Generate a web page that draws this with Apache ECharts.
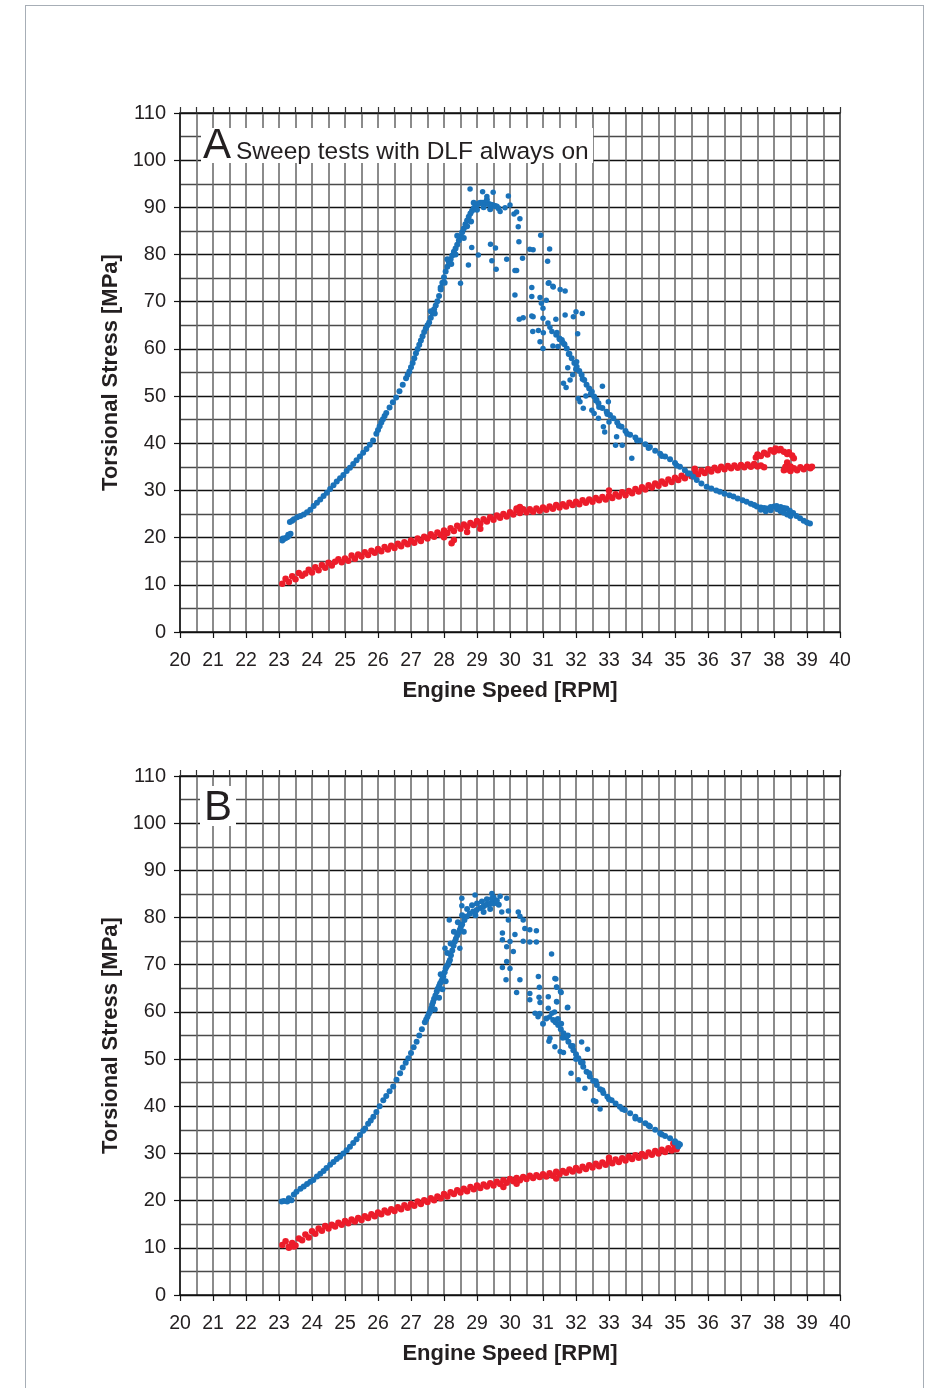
<!DOCTYPE html>
<html>
<head>
<meta charset="utf-8">
<script src="https://cdn.jsdelivr.net/npm/echarts@6/dist/echarts.min.js"></script>
<style>
html,body{margin:0;padding:0;background:#fff;}
#frame{position:absolute;left:25px;top:5px;width:899px;height:1400px;border:1px solid #a7aeb6;border-bottom:none;box-sizing:border-box;}
#chart{position:absolute;left:0;top:0;width:937px;height:1388px;}
</style>
</head>
<body>
<div id="frame"></div>
<div id="chart"></div>
<script>
// ---------- Data ----------
const xMin = 20, xMax = 40, yMin = 0, yMax = 110;
const xAxisName = 'Engine Speed [RPM]';
const yAxisName = 'Torsional Stress [MPa]';
const titleA = 'Sweep tests with DLF always on';

// Panel A – blue (dense curve)
const blueACurve = [
[23.10,19.4],[23.12,19.8],[23.15,19.7],[23.20,19.9],[23.25,20.1],[23.28,20.6],[23.30,20.4],[23.35,20.8],
[23.33,23.3],[23.40,23.6],[23.45,23.9],[23.55,24.3],[23.65,24.6],[23.75,24.9],[23.85,25.4],[23.95,25.9],
[24.05,26.7],[24.15,27.4],[24.25,28.1],[24.35,28.8],[24.45,29.5],[24.55,30.3],[24.65,31.1],[24.75,31.9],
[24.85,32.6],[24.95,33.3],[25.05,34.1],[25.15,34.8],[25.25,35.6],[25.35,36.4],[25.45,37.2],[25.55,38.0],
[25.65,38.8],[25.75,39.7],[25.85,40.6],[25.95,42.0],[26.00,42.8],[26.05,43.6],[26.10,44.4],[26.15,45.1],
[26.20,45.8],[26.25,46.4],[26.35,47.6],[26.45,48.7],[26.55,49.7],[26.65,51.0],[26.75,52.4],[26.85,53.8],
[26.90,54.5],[26.95,55.2],[27.00,56.1],[27.05,57.0],[27.10,58.0],[27.15,59.1],[27.20,60.0],[27.25,60.9],
[27.30,61.8],[27.35,62.7],[27.40,63.6],[27.45,64.4],[27.50,65.0],[27.55,65.6],[27.60,66.6],[27.65,67.6],
[27.70,68.4],[27.75,69.2],[27.80,70.1],[27.85,71.2],[27.90,72.6],[27.95,74.0],[28.00,75.2],[28.05,76.4],
[28.10,77.4],[28.15,78.3],[28.20,79.0],[28.25,79.8],[28.30,80.6],[28.35,81.3],[28.40,82.1],[28.45,83.0],
[28.50,83.9],[28.55,84.7],[28.60,85.5],[28.65,86.4],[28.70,87.2],[28.75,88.0],[28.80,88.7],[28.85,89.3],
[28.90,89.8],[28.95,90.2],[29.00,90.5],[29.05,90.8],[29.10,91.0],[29.15,91.0],[29.20,91.0],[29.25,90.9],
[29.30,90.8],[29.35,90.7],[29.40,90.6],[29.45,90.5],[29.50,90.4],[29.55,90.3],[29.60,90.2],[29.65,89.8],
[27.60,68.0],[27.72,67.5],[27.90,73.0],[28.02,74.0],[28.10,79.0],[28.22,78.0],[28.35,80.0],[28.40,84.0],
[28.60,83.5],[28.70,86.0],[28.82,87.0],[28.90,91.0],[29.00,89.5],[29.20,90.0],[29.30,91.6],[29.40,89.6],
[31.40,63.0],[31.50,62.2],[31.57,61.9],[31.65,61.0],[31.72,60.1],[31.80,59.0],[31.87,58.0],[31.95,57.0],
[32.02,56.2],[32.10,55.3],[32.17,54.5],[32.25,53.4],[32.32,52.4],[32.40,51.6],[32.48,50.9],[32.55,49.9],
[32.62,49.2],[32.68,48.5],[32.80,47.5],[32.93,46.7],[33.03,46.0],[33.13,45.3],[33.25,44.4],[33.38,43.5],
[33.50,42.6],[33.64,41.8],[33.80,41.2],[33.94,40.6],[34.10,39.8],[34.24,39.2],[34.40,38.4],[34.55,37.8],
[34.70,37.2],[34.85,36.6],[35.00,35.8],[35.15,35.0],[35.30,34.3],[35.45,33.6],[35.55,32.9],[35.66,32.2],
[35.80,31.5],[35.96,30.8],[36.10,30.4],[36.25,30.0],[36.36,29.7],[36.50,29.3],[36.65,29.0],[36.77,28.7],
[36.90,28.3],[37.05,27.9],[37.17,27.6],[37.30,27.2],[37.40,26.9],[37.48,26.6],[37.60,26.4],[37.70,26.3],
[37.78,26.2],[37.90,26.5],[38.00,26.6],[38.08,26.7],[38.20,26.5],[38.30,26.3],[38.38,26.2],[38.48,25.7],
[38.58,25.2],[38.68,24.6],[38.79,24.1],[38.90,23.6],[39.00,23.2],[39.09,23.0],
[37.60,25.9],[37.75,25.6],[37.90,25.8],[38.10,26.0],[38.20,25.6],[38.30,25.3],[38.40,24.9],[38.50,24.6],
[31.60,61.3],[31.78,58.9],[32.00,55.7],[32.20,53.6],[32.45,50.5],[32.70,47.7],[32.95,46.2],[33.30,43.7],
[33.55,42.0],[33.85,40.6],[34.20,39.0],[34.60,37.3],[35.05,35.3],[35.40,33.6]
];
// Panel A – blue (scattered points around the peak)
const blueAScatter = [
[28.79,93.9],[29.17,93.3],[29.49,93.2],[29.95,92.4],[29.30,92.3],[29.70,89.1],[30.00,90.5],[30.12,88.6],
[30.25,85.9],[30.30,87.6],[29.85,89.9],[30.20,89.0],
[28.50,73.9],[28.74,77.8],[28.84,81.5],[29.04,79.9],[29.41,82.2],[29.56,81.4],[29.45,78.7],[29.58,76.9],
[29.90,79.0],[30.15,76.6],[30.20,76.6],[30.38,79.2],[30.60,81.1],[30.70,81.0],[30.27,82.7],[30.93,84.1],
[31.20,81.2],[31.14,78.6],[30.15,71.4],[30.66,73.0],[30.66,71.1],[30.91,70.9],[30.95,69.7],[31.18,74.0],
[31.31,73.1],[31.52,72.6],[31.67,72.3],[31.16,73.9],[31.30,73.3],[31.10,70.3],[31.00,68.6],[30.66,67.0],
[31.67,67.2],[32.00,67.9],[32.19,67.5],[31.92,66.8],[31.39,66.3],[30.28,66.3],[30.40,66.6],[30.70,66.8],
[31.00,66.5],[31.15,65.5],[30.69,63.7],[30.86,63.9],[31.01,63.4],[31.21,64.6],[31.27,63.7],[31.42,63.5],
[32.05,63.2],[30.91,61.5],[31.00,60.1],[31.30,60.6],[31.62,52.7],[31.82,53.4],[31.70,51.8],[32.07,49.5],
[32.12,48.8],[32.22,47.4],[32.48,47.0],[32.55,46.3],[32.68,45.3],[32.83,43.5],[32.87,42.4],[33.23,41.4],
[32.98,48.8],[32.80,52.1],[33.20,39.6],[33.40,39.6],[33.69,36.8],[32.02,57.3],[31.75,56.0],[31.90,54.5],
[32.30,50.0],[32.60,49.0],[33.00,44.5],[31.50,62.0],[31.45,60.5]
];
// Panel A – red
const redA = [
[23.1,10.2],[23.2,11.3],[23.3,10.6],[23.4,11.8],[23.5,11.2],[23.6,12.5],[23.7,11.9],[23.8,12.4],[23.9,13.2],[24.0,12.6],
[24.1,13.7],[24.2,13.1],[24.3,14.2],[24.4,13.6],[24.5,14.7],[24.6,14.1],[24.7,14.9],[24.8,15.4],[24.9,14.8],[25.0,15.6],
[25.1,15.1],[25.2,16.2],[25.3,15.5],[25.4,16.4],[25.5,16.0],[25.6,16.9],[25.7,16.3],[25.8,17.2],[25.9,16.8],[26.0,17.6],
[26.1,17.1],[26.2,18.0],[26.3,17.5],[26.4,18.3],[26.5,17.8],[26.6,18.7],[26.7,18.2],[26.8,19.0],[26.9,18.6],[27.0,19.4],
[27.1,18.9],[27.2,19.8],[27.3,19.3],[27.4,20.2],[27.5,19.8],[27.6,20.7],[27.7,20.2],[27.8,21.1],[27.9,20.6],[28.0,21.5],
[28.1,21.0],[28.2,22.0],[28.3,21.4],[28.4,22.5],[28.5,21.9],[28.6,22.8],[28.7,22.3],[28.8,23.1],[28.9,22.7],[29.0,23.5],
[29.1,23.0],[29.2,23.9],[29.3,23.4],[29.4,24.3],[29.5,23.8],[29.6,24.7],[29.7,24.2],[29.8,25.0],[29.9,24.5],[30.0,25.4],
[30.1,24.9],[30.2,25.8],[30.3,25.2],[30.4,26.0],[30.5,25.4],[30.6,26.0],[30.7,25.5],[30.8,26.2],[30.9,25.7],[31.0,26.4],
[31.1,25.9],[31.2,26.6],[31.3,26.1],[31.4,26.9],[31.5,26.4],[31.6,27.1],[31.7,26.6],[31.8,27.4],[31.9,26.9],[32.0,27.6],
[32.1,27.1],[32.2,27.9],[32.3,27.4],[32.4,28.1],[32.5,27.6],[32.6,28.4],[32.7,27.9],[32.8,28.6],[32.9,28.1],[33.0,28.9],
[33.1,28.4],[33.2,29.2],[33.3,28.7],[33.4,29.6],[33.5,29.0],[33.6,29.9],[33.7,29.4],[33.8,30.3],[33.9,29.8],[34.0,30.7],
[34.1,30.2],[34.2,31.1],[34.3,30.6],[34.4,31.5],[34.5,31.0],[34.6,31.9],[34.7,31.4],[34.8,32.3],[34.9,31.8],[35.0,32.7],
[35.1,32.2],[35.2,33.1],[35.3,32.6],[35.4,33.5],[35.5,33.0],[35.6,33.9],[35.7,33.4],[35.8,34.2],[35.9,33.7],[36.0,34.5],
[36.1,34.0],[36.2,34.8],[36.3,34.3],[36.4,35.0],[36.5,34.5],[36.6,35.2],[36.7,34.7],[36.8,35.3],[36.9,34.8],[37.0,35.4],
[37.1,34.9],[37.2,35.5],[37.3,35.0],[37.4,35.6],[37.5,35.1],[37.6,35.3],[37.7,34.9],
[37.45,37.0],[37.50,37.6],[37.60,37.3],[37.70,38.0],[37.80,37.6],[37.90,38.5],[38.00,38.2],[38.05,38.9],[38.15,38.5],
[38.20,38.8],[38.30,38.2],[38.40,37.7],[38.45,38.1],[38.55,37.4],[38.60,36.8],[38.40,35.9],[38.35,35.0],[38.30,34.3],
[38.40,34.5],[38.50,34.1],[38.60,34.7],[38.70,34.3],[38.80,34.9],[38.90,34.5],[39.00,35.0],[39.10,34.7],[39.15,35.0],
[38.35,34.8],[38.50,35.1],
[28.23,18.8],[28.30,19.5],[28.00,20.1],[28.70,21.2],[29.10,21.9],[30.30,26.5],[30.20,26.2],[33.00,30.0],[35.60,34.6]
];

// Panel B – blue (dense curve)
const blueBCurve = [
[23.08,19.8],[23.15,19.9],[23.25,19.8],[23.30,20.5],[23.38,20.1],[23.45,21.3],[23.53,21.9],[23.65,22.5],
[23.75,23.0],[23.85,23.5],[23.95,24.0],[24.04,24.4],[24.15,25.1],[24.25,25.7],[24.35,26.3],[24.44,26.9],
[24.55,27.6],[24.65,28.2],[24.75,28.8],[24.85,29.3],[24.95,30.0],[25.05,30.7],[25.15,31.4],[25.25,32.2],
[25.35,33.0],[25.45,33.9],[25.55,34.8],[25.61,35.3],[25.70,36.3],[25.78,37.0],[25.86,37.8],[25.95,38.8],
[26.05,40.0],[26.16,41.3],[26.25,42.2],[26.35,43.2],[26.46,44.2],[26.56,45.6],[26.67,47.0],[26.75,48.2],
[26.84,49.2],[26.92,50.2],[27.00,51.3],[27.08,52.5],[27.17,53.7],[27.25,55.0],[27.33,56.3],[27.42,57.8],
[27.46,58.4],[27.50,59.0],[27.54,59.6],[27.58,60.1],[27.61,60.8],[27.64,61.5],[27.67,62.1],[27.70,62.8],
[27.74,63.5],[27.78,64.3],[27.81,64.9],[27.85,65.5],[27.88,66.0],[27.92,66.5],[27.95,67.0],[27.98,67.5],
[28.02,68.4],[28.05,69.2],[28.08,69.6],[28.12,70.0],[28.15,70.5],[28.18,71.0],[28.21,72.0],[28.25,73.0],
[28.29,74.0],[28.33,74.9],[28.36,75.5],[28.40,76.2],[28.44,76.8],[28.48,77.4],[28.51,78.0],[28.55,78.5],
[28.62,79.5],[28.69,80.2],[28.78,80.8],[28.88,81.3],[28.99,81.6],[29.10,82.0],[29.20,82.4],[29.29,82.7],
[29.40,82.9],[29.49,83.0],[29.58,83.1],[29.66,82.7],
[27.72,60.5],[27.85,63.0],[27.95,64.8],[28.05,66.5],[27.90,68.0],[28.10,72.5],[28.20,74.5],[28.30,77.0],
[28.42,79.0],[28.55,80.5],[28.60,77.0],[28.70,81.8],[28.85,82.6],[29.00,83.0],[29.15,83.4],[29.30,83.9],
[29.45,84.0],[28.95,80.5],[29.20,81.2],[29.40,81.8],[29.50,84.3],[29.60,83.6],
[31.31,58.3],[31.38,57.8],[31.46,57.2],[31.54,56.3],[31.62,55.5],[31.70,54.6],[31.77,53.7],[31.85,52.8],
[31.92,51.9],[32.00,51.0],[32.07,50.2],[32.15,49.3],[32.22,48.4],[32.32,47.3],[32.42,46.3],[32.52,45.4],
[32.63,44.5],[32.73,43.6],[32.83,42.8],[32.95,42.0],[33.08,41.3],[33.20,40.6],[33.33,39.9],[33.48,39.2],
[33.64,38.5],[33.80,37.8],[33.94,37.1],[34.10,36.4],[34.24,35.7],[34.40,35.0],[34.55,34.3],[34.70,33.7],
[34.85,33.2],[35.00,32.6],[35.10,32.1],[35.15,31.9],
[31.45,58.5],[31.55,57.5],[31.60,54.5],[31.75,55.0],[31.90,52.8],[32.00,50.0],[32.20,49.3],[32.40,47.0],
[32.60,45.3],[32.80,43.4],[33.00,41.5],[33.40,39.4],[33.80,37.4],[34.20,35.9],[34.60,34.0],[35.00,32.3],
[35.10,31.5],[30.90,59.6],[31.10,58.6],[31.00,57.5]
];
// Panel B – blue (scattered points)
const blueBScatter = [
[28.54,84.1],[28.94,84.8],[29.45,85.1],[29.70,84.5],[29.90,84.1],[28.54,82.5],[28.16,79.5],[28.03,73.5],
[28.48,73.5],[29.75,81.2],[29.95,81.4],[29.95,79.5],[30.25,81.2],[30.40,79.5],[30.30,80.3],[30.60,77.4],
[30.80,77.2],[30.45,77.7],[29.77,76.7],[30.15,76.4],[29.77,75.3],[30.00,74.9],[30.40,75.0],[30.60,74.8],
[30.80,74.8],[29.90,73.8],[30.10,72.8],[31.26,72.3],[29.90,70.7],[29.77,69.4],[30.00,69.2],[29.88,66.8],
[30.30,66.8],[30.86,67.5],[31.39,67.0],[30.20,64.1],[30.60,63.9],[30.89,65.2],[31.42,65.2],[31.55,64.1],
[31.16,63.2],[30.60,62.6],[30.91,62.0],[31.42,62.1],[31.75,61.0],[30.76,59.7],[31.16,60.8],[31.27,59.7],
[31.35,60.0],[30.85,59.0],[31.36,67.1],[31.41,65.3],[31.53,64.3],[30.88,63.1],[31.41,62.2],[31.74,60.9],
[31.20,58.9],[31.21,54.4],[31.18,53.8],[31.36,52.6],[31.52,51.6],[31.62,51.4],[32.17,53.6],[32.35,52.1],
[31.85,47.0],[32.07,45.6],[32.27,43.8],[32.53,41.2],[32.60,41.0],[32.73,39.4]
];
// Panel B – red
const redB = [
[23.1,10.6],[23.2,11.4],[23.3,10.2],[23.4,11.0],[23.5,10.5],[23.6,12.0],[23.7,11.6],[23.8,12.8],[23.9,12.2],[24.0,13.5],
[24.1,13.0],[24.2,14.1],[24.3,13.6],[24.4,14.6],[24.5,14.1],[24.6,14.9],[24.7,14.5],[24.8,15.3],[24.9,14.9],[25.0,15.7],
[25.1,15.2],[25.2,16.0],[25.3,15.6],[25.4,16.3],[25.5,15.9],[25.6,16.7],[25.7,16.3],[25.8,17.1],[25.9,16.7],[26.0,17.5],
[26.1,17.1],[26.2,17.9],[26.3,17.5],[26.4,18.2],[26.5,17.8],[26.6,18.6],[26.7,18.2],[26.8,19.0],[26.9,18.5],[27.0,19.3],
[27.1,18.9],[27.2,19.8],[27.3,19.3],[27.4,20.1],[27.5,19.7],[27.6,20.5],[27.7,20.1],[27.8,20.9],[27.9,20.5],[28.0,21.4],
[28.1,20.9],[28.2,21.8],[28.3,21.4],[28.4,22.2],[28.5,21.7],[28.6,22.5],[28.7,22.0],[28.8,22.9],[28.9,22.4],[29.0,23.2],
[29.1,22.7],[29.2,23.4],[29.3,23.0],[29.4,23.7],[29.5,23.2],[29.6,24.0],[29.7,23.5],[29.8,24.3],[29.9,23.8],[30.0,24.6],
[30.1,24.1],[30.2,24.8],[30.3,24.3],[30.4,25.0],[30.5,24.6],[30.6,25.3],[30.7,24.8],[30.8,25.4],[30.9,25.0],[31.0,25.6],
[31.1,25.1],[31.2,25.8],[31.3,25.3],[31.4,26.1],[31.5,25.6],[31.6,26.3],[31.7,25.9],[31.8,26.6],[31.9,26.2],[32.0,26.9],
[32.1,26.4],[32.2,27.2],[32.3,26.7],[32.4,27.5],[32.5,27.0],[32.6,27.8],[32.7,27.3],[32.8,28.1],[32.9,27.6],[33.0,28.4],
[33.1,27.9],[33.2,28.7],[33.3,28.2],[33.4,29.0],[33.5,28.5],[33.6,29.3],[33.7,28.8],[33.8,29.6],[33.9,29.1],[34.0,29.9],
[34.1,29.4],[34.2,30.2],[34.3,29.7],[34.4,30.5],[34.5,30.0],[34.6,30.8],[34.7,30.3],[34.8,31.1],[34.9,30.6],[35.0,31.4],
[35.05,30.9],
[23.3,10.0],[23.45,10.3],[29.8,22.9],[30.2,23.6],[31.4,24.7],[34.95,32.1],[33.0,29.1]
];

// ---------- Chart ----------
const BLUE = '#1a72b9', RED = '#ec1c2a', INK = '#231f20';
const FONT = '"Liberation Sans", Arial, Helvetica, sans-serif';
const grids = [
  {left: 180, top: 113, width: 660, height: 519},
  {left: 180, top: 776, width: 660, height: 519}
];

const xAxes = [], yAxes = [];
grids.forEach((g, i) => {
  // bottom axis: integer labels and ticks
  xAxes.push({
    gridIndex: i, type: 'value', position: 'bottom', min: xMin, max: xMax, interval: 1,
    name: xAxisName, nameLocation: 'middle', nameGap: 48,
    nameTextStyle: {fontFamily: FONT, fontSize: 22, fontWeight: 'bold', color: INK},
    axisLine: {show: true, onZero: false, lineStyle: {color: '#111', width: 1.5}},
    axisTick: {show: true, inside: false, length: 6, lineStyle: {color: '#111', width: 1.2}},
    axisLabel: {show: true, margin: 19, fontFamily: FONT, fontSize: 19.5, color: INK},
    splitLine: {show: false}
  });
  // top axis: half-unit grid lines and outward ticks
  xAxes.push({
    gridIndex: i, type: 'value', position: 'top', min: xMin, max: xMax, interval: 0.5,
    axisLine: {show: true, onZero: false, lineStyle: {color: '#111', width: 1.5}},
    axisTick: {show: true, inside: false, length: 6, lineStyle: {color: '#333', width: 1.2}},
    axisLabel: {show: false},
    splitLine: {show: true, lineStyle: {color: '#6e6e6e', width: 1.6}}
  });
  // left axis: labels every 10
  yAxes.push({
    gridIndex: i, type: 'value', position: 'left', min: yMin, max: yMax, interval: 10,
    name: yAxisName, nameLocation: 'middle', nameGap: 55,
    nameTextStyle: {fontFamily: FONT, fontSize: 22, fontWeight: 'bold', color: INK},
    axisLine: {show: true, onZero: false, lineStyle: {color: '#111', width: 1.5}},
    axisTick: {show: true, inside: false, length: 6, lineStyle: {color: '#111', width: 1.2}},
    axisLabel: {show: true, margin: 14, fontFamily: FONT, fontSize: 20, color: INK},
    splitLine: {show: false}
  });
  // right axis: grid lines every 5
  yAxes.push({
    gridIndex: i, type: 'value', position: 'right', min: yMin, max: yMax, interval: 5,
    axisLine: {show: true, onZero: false, lineStyle: {color: '#555', width: 1.5}},
    axisTick: {show: false},
    axisLabel: {show: false},
    splitLine: {show: true, lineStyle: {color: ['#111', '#4a4a4a'], width: 1.4}}
  });
});

function sc(data, gi, color, size) {
  return {
    type: 'scatter', data: data, xAxisIndex: gi * 2, yAxisIndex: gi * 2,
    symbol: 'circle', symbolSize: size, itemStyle: {color: color, opacity: 1},
    silent: true, z: 3
  };
}

const option = {
  animation: false,
  backgroundColor: 'transparent',
  grid: grids,
  xAxis: xAxes,
  yAxis: yAxes,
  series: [
    sc(redA, 0, RED, 6.5), sc(blueACurve, 0, BLUE, 6), sc(blueAScatter, 0, BLUE, 5.5),
    sc(redB, 1, RED, 6.5), sc(blueBCurve, 1, BLUE, 6), sc(blueBScatter, 1, BLUE, 5.5)
  ],
  graphic: [
    {type: 'rect', left: 201, top: 128, z: 100, shape: {width: 392, height: 35}, style: {fill: '#fff'}},
    {type: 'text', left: 203, top: 125, z: 101, style: {text: 'A', font: '42px ' + FONT, fill: INK}},
    {type: 'text', left: 236, top: 140, z: 101, style: {text: titleA, font: '24.5px ' + FONT, fill: INK}},
    {type: 'rect', left: 200, top: 786, z: 100, shape: {width: 36, height: 40}, style: {fill: '#fff'}},
    {type: 'text', left: 204, top: 787, z: 101, style: {text: 'B', font: '42px ' + FONT, fill: INK}}
  ]
};

const chart = echarts.init(document.getElementById('chart'), null, {renderer: 'canvas'});
chart.setOption(option);
</script>
</body>
</html>
